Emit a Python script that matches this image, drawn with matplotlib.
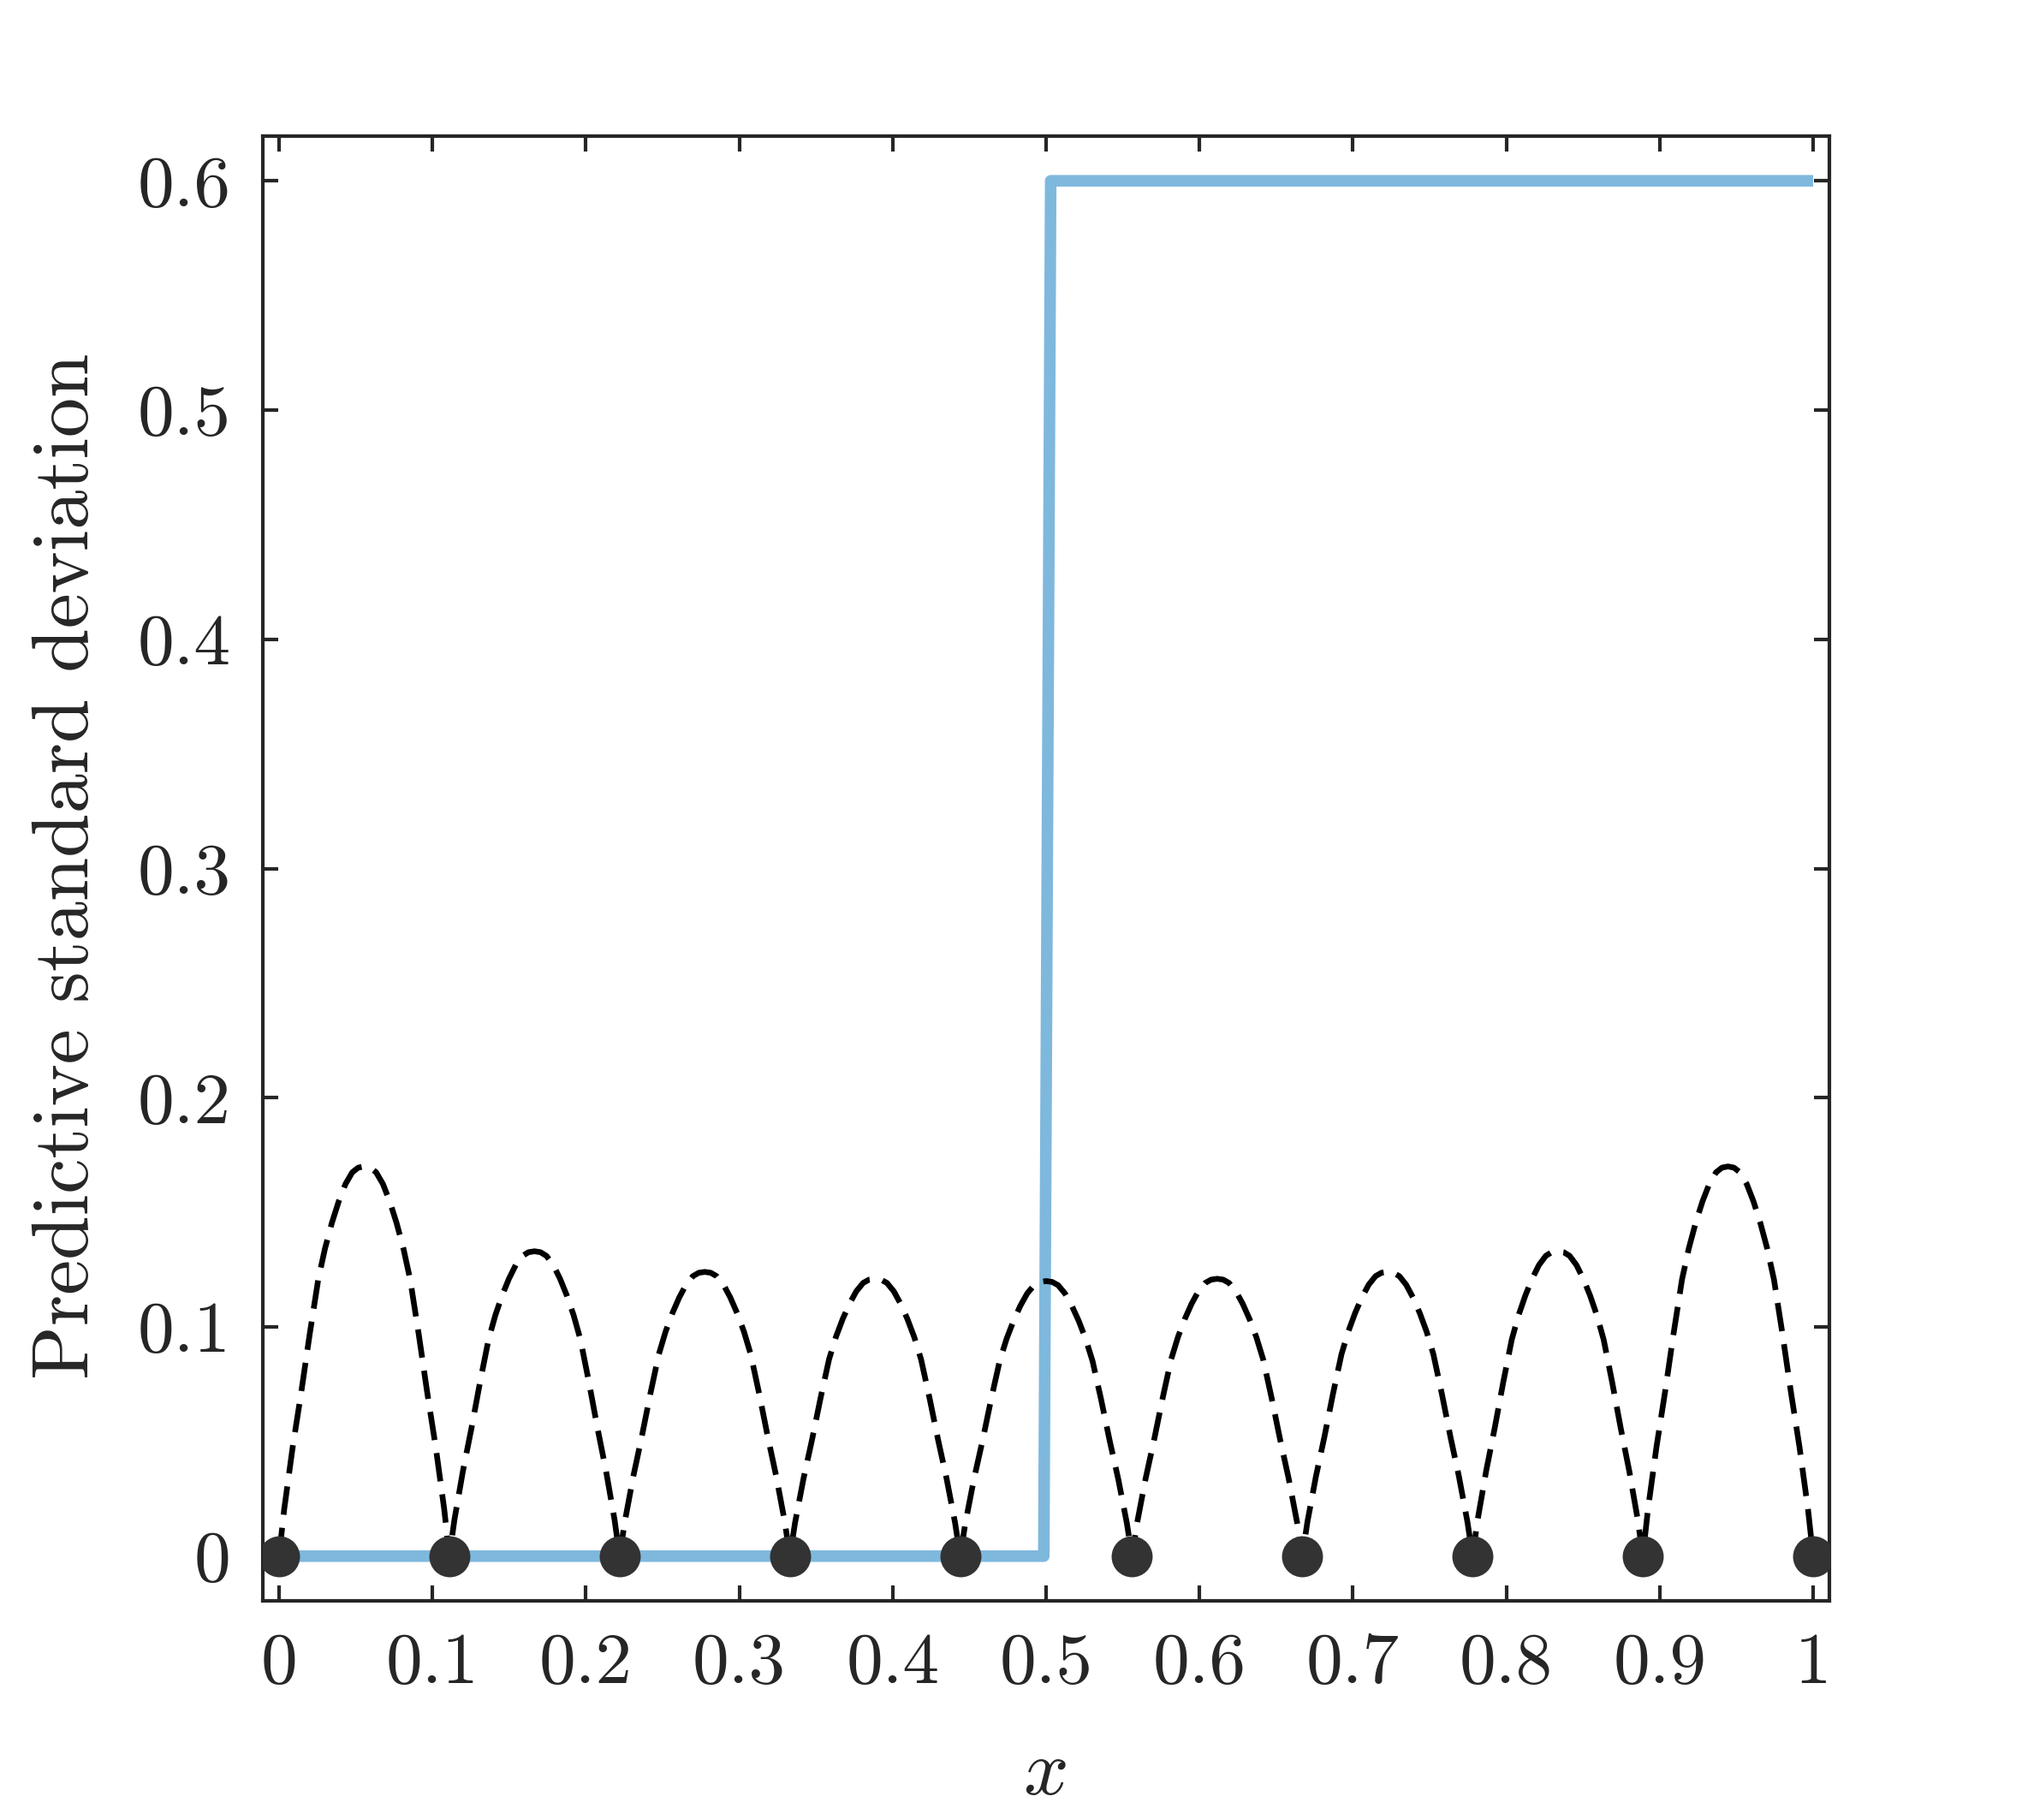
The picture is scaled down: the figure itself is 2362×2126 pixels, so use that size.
import matplotlib
matplotlib.use("Agg")
import matplotlib.pyplot as plt

# training inputs (the dots) and the std-dev peak between each pair
train_x = [0.0, 0.111, 0.222, 0.333, 0.444, 0.556, 0.667, 0.778, 0.889, 1.0]
train_y = [0, 0, 0, 0, 0, 0, 0, 0, 0, 0]
arch_peaks = [0.170, 0.133, 0.124, 0.121, 0.120, 0.121, 0.124, 0.133, 0.170]

half_t = [0.0, 0.03, 0.08, 0.13, 0.18, 0.23, 0.27, 0.31, 0.35, 0.39, 0.43, 0.465, 0.5]
half_f = [0.0, 0.12, 0.28, 0.42, 0.57, 0.71, 0.79, 0.855, 0.91, 0.955, 0.985, 0.997, 1.0]

# ground-truth step
step_x = [0.0, 0.4985, 0.503, 1.0]
step_y = [0.0, 0.0, 0.6, 0.6]

xticks = [0, 0.1, 0.2, 0.3, 0.4, 0.5, 0.6, 0.7, 0.8, 0.9, 1]
xticklabels = ["0", "0.1", "0.2", "0.3", "0.4", "0.5", "0.6", "0.7", "0.8", "0.9", "1"]
yticks = [0, 0.1, 0.2, 0.3, 0.4, 0.5, 0.6]
yticklabels = ["0", "0.1", "0.2", "0.3", "0.4", "0.5", "0.6"]

dark = "#262626"
plt.rcParams["font.family"] = "cmr10"
plt.rcParams["mathtext.fontset"] = "cm"
plt.rcParams["axes.unicode_minus"] = False

fig = plt.figure(figsize=(2362 / 300, 2126 / 300), dpi=300)
ax = fig.add_axes([307 / 2362, 1 - 1870 / 2126, (2137 - 307) / 2362, (1870 - 159) / 2126])

# build the dashed curve from the arch shape
shape_t = half_t + [1 - t for t in half_t[::-1][1:]]
shape_f = half_f + half_f[::-1][1:]
sx, sy = [], []
for i, pk in enumerate(arch_peaks):
    x0, x1 = train_x[i], train_x[i + 1]
    for t, f in zip(shape_t, shape_f):
        sx.append(x0 + t * (x1 - x0))
        sy.append(pk * f)

ax.plot(step_x, step_y, color=(0, 0.447, 0.741), alpha=0.5, lw=3.25,
        solid_joinstyle="round", solid_capstyle="butt", zorder=2)
ax.plot(sx, sy, color="black", lw=1.6, linestyle=(0, (5, 2.3)), zorder=3)
ax.plot(train_x, train_y, "o", color="#333333", ms=11.5, mec="none", zorder=4)

ax.set_xlim(-0.0106, 1.0106)
ax.set_ylim(-0.0195, 0.6195)
ax.set_xticks(xticks)
ax.set_xticklabels(xticklabels)
ax.set_yticks(yticks)
ax.set_yticklabels(yticklabels)

ax.tick_params(direction="in", length=4.4, width=1.0, color=dark, labelcolor=dark,
               labelsize=20.5, top=True, right=True)
ax.tick_params(axis="x", pad=9)
ax.tick_params(axis="y", pad=9)
for sp in ax.spines.values():
    sp.set_color(dark)
    sp.set_linewidth(1.0)

fig.text(80 / 2362, 1 - 1012 / 2126, "Predictive standard deviation", rotation=90,
         ha="center", va="center", fontsize=22.2, color=dark)
fig.text(1220 / 2362, 1 - 2073 / 2126, "$x$", ha="center", va="center",
         fontsize=22.2, color=dark)

fig.savefig("out.png", dpi=300, facecolor="white")
